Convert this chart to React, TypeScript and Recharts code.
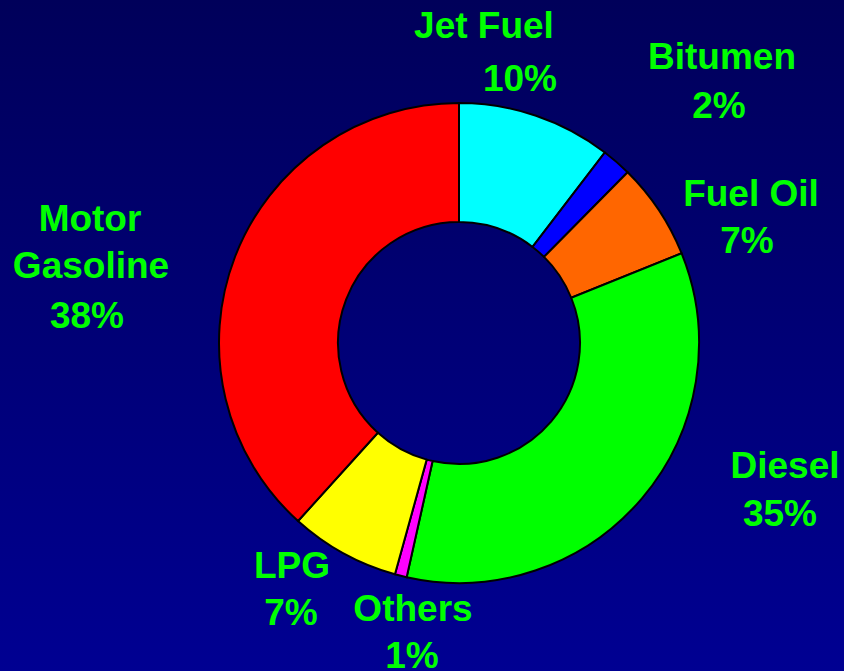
import { PieChart, Pie, Cell } from 'recharts'

const PRODUCTS = ['Jet Fuel', 'Bitumen', 'Fuel Oil', 'Diesel', 'Others', 'LPG', 'Motor\nGasoline']
const SHARES = [10.4, 2.0, 6.5, 34.6, 0.8, 7.4, 38.3]
const COLORS = ['#00ffff', '#0000ff', '#ff6600', '#00ff00', '#ff00ff', '#ffff00', '#ff0000']

// label line centres/baselines, relative to the pie centre
const LABEL_LAYOUT: number[][][] = [
  [[25, -305], [61, -252]],
  [[263, -274], [260, -225]],
  [[292, -137], [288, -90]],
  [[326, 135], [321, 183]],
  [[-46, 278], [-47, 325]],
  [[-167, 235], [-168, 282]],
  [[-369, -112], [-368, -65], [-372, -15]],
]

const data = PRODUCTS.map((name, i) => ({ name, value: SHARES[i] }))

function renderLabel(props: any) {
  const { cx, cy, index } = props
  const lines = [...data[index].name.split('\n'), `${Math.round(data[index].value)}%`]
  const pos = LABEL_LAYOUT[index]
  return (
    <g>
      {lines.map((t, k) => (
        <text
          key={k}
          x={cx + pos[k][0]}
          y={cy + pos[k][1]}
          textAnchor="middle"
          fill="#00ff00"
          fontFamily="'Liberation Sans', Arial, sans-serif"
          fontWeight="bold"
          fontSize={37}
        >
          {t}
        </text>
      ))}
    </g>
  )
}

export default function App() {
  return (
    <div
      style={{
        position: 'absolute',
        left: 0,
        top: 0,
        width: 844,
        height: 671,
        background: 'linear-gradient(to bottom, #00005a, #000092)',
      }}
    >
      <PieChart width={844} height={671} margin={{ top: 0, right: 0, bottom: 0, left: 0 }}>
        <Pie
          data={data}
          dataKey="value"
          nameKey="name"
          cx={459}
          cy={343}
          innerRadius={121}
          outerRadius={240}
          startAngle={90}
          endAngle={-270}
          stroke="#000000"
          strokeWidth={2}
          label={renderLabel}
          labelLine={false}
          isAnimationActive={false}
        >
          {data.map((d, i) => (
            <Cell key={d.name} fill={COLORS[i]} />
          ))}
        </Pie>
      </PieChart>
    </div>
  )
}
